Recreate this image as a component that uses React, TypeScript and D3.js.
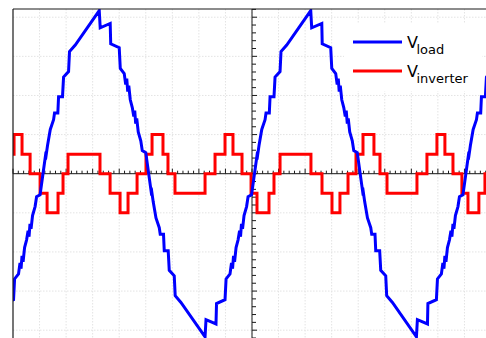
import React from 'react';
import * as d3 from 'd3';

const W = 486;
const H = 338;

// Load voltage (V) against time (ms)
const loadTime = [
  -24.33, -24.24, -23.3, -23.25, -22.45, -22.35, -21.98, -21.84, -21.74, -21.65, -21.55, -21.41, -21.22, -21.08, -20.99, -20.9, -20.8, -20.66, -20.42, -20.28, -19.95, -19.39, -19.44, -19.25, -18.99, -18.68, -18.59, -18.28, -18.21, -17.84, -17.74, -17.27, -17.18, -16.64,
  -14.38, -14.29, -13.35, -13.3, -12.5, -12.4, -12.03, -11.89, -11.79, -11.7, -11.6, -11.46, -11.27, -11.13, -11.04, -10.95, -10.85, -10.71, -10.47, -10.33, -10.0, -9.44, -9.49, -9.3, -9.04, -8.73, -8.64, -8.33, -8.26, -7.89, -7.79, -7.32, -7.23, -6.69,
  -4.42, -4.33, -3.39, -3.34, -2.54, -2.44, -2.07, -1.93, -1.83, -1.74, -1.64, -1.5, -1.31, -1.17, -1.08, -0.99, -0.89, -0.75, -0.51, -0.37, -0.04, 0.52, 0.47, 0.66, 0.92, 1.23, 1.32, 1.63, 1.7, 2.07, 2.17, 2.64, 2.73, 3.27,
  5.53, 5.62, 6.57, 6.61, 7.41, 7.51, 7.88, 8.02, 8.12, 8.21, 8.31, 8.45, 8.64, 8.78, 8.87, 8.97, 9.06, 9.2, 9.44, 9.58, 9.91, 10.47, 10.42, 10.61, 10.87, 11.18, 11.27, 11.58, 11.65, 12.02, 12.12, 12.59, 12.68, 13.22,
  15.48, 15.57, 16.52, 16.56, 17.36, 17.46, 17.83, 17.97, 18.07, 18.16, 18.26, 18.4, 18.59, 18.73, 18.82, 18.92, 19.01, 19.15, 19.39, 19.53, 19.86, 20.42, 20.37, 20.56, 20.82, 21.13, 21.22, 21.53, 21.6, 21.97, 22.07, 22.54, 22.63,
];
const loadVolt = [
  -417, -373, -384, -332, -322, -269, -256, -228, -243, -210, -225, -189, -169, -146, -161, -128, -141, -107, -84, -59, -54, 56, 36, 72, 113, 138, 155, 155, 197, 197, 247, 261, 312, 329,
  417, 373, 384, 332, 322, 269, 256, 228, 243, 210, 225, 189, 169, 146, 161, 128, 141, 107, 84, 59, 54, -56, -36, -72, -113, -138, -155, -155, -197, -197, -247, -261, -312, -329,
  -417, -373, -384, -332, -322, -269, -256, -228, -243, -210, -225, -189, -169, -146, -161, -128, -141, -107, -84, -59, -54, 56, 36, 72, 113, 138, 155, 155, 197, 197, 247, 261, 312, 329,
  417, 373, 384, 332, 322, 269, 256, 228, 243, 210, 225, 189, 169, 146, 161, 128, 141, 107, 84, 59, 54, -56, -36, -72, -113, -138, -155, -155, -197, -197, -247, -261, -312, -329,
  -417, -373, -384, -332, -322, -269, -256, -228, -243, -210, -225, -189, -169, -146, -161, -128, -141, -107, -84, -59, -54, 56, 36, 72, 113, 138, 155, 155, 197, 197, 247, 261, 312,
];

// Inverter output: switching instants (ms) and the level held after each one (V)
const invTime = [
  -22.5, -22.4, -21.65, -20.89, -19.95, -19.29, -18.26, -17.79, -17.32,
  -14.31, -13.36, -12.42, -11.67, -10.82, -9.98, -9.41, -8.38, -7.91, -7.25,
  -4.42, -3.48, -2.54, -1.79, -0.94, -0.09, 0.47, 1.6, 2.07, 2.64,
  5.55, 6.59, 7.53, 8.28, 9.04, 9.79, 10.45, 11.48, 12.05, 12.71,
  15.53, 16.47, 17.41, 18.16, 18.92, 19.76, 20.33, 21.36, 21.93, 22.5,
];
const invVolt = [
  50, 100, 50, 0, -50, -100, -50, 0, 50,
  0, -50, -100, -50, 0, 50, 100, 50, 0, -50,
  0, 50, 100, 50, 0, -50, -100, -50, 0, 50,
  0, -50, -100, -50, 0, 50, 100, 50, 0, -50,
  0, 50, 100, 50, 0, -50, -100, -50, 0, 50,
];

const seriesNames = ['load', 'inverter'];
const seriesColors = ['#0000ff', '#ff0000'];

export default function App() {
  const plotLeft = 13;
  const plotTop = 9;
  const plotRight = 491;
  const plotBottom = 338.4;

  const x = d3.scaleLinear().domain([-22.5, 22.5]).range([plotLeft, plotRight]);
  const y = d3.scaleLinear().domain([-421, 421]).range([plotBottom, plotTop]);

  const loadPts: [number, number][] = loadTime.map((t, i) => [t, loadVolt[i]]);
  const invPts: [number, number][] = invTime.map((t, i) => [t, invVolt[i]]);

  const linePath = d3
    .line<[number, number]>()
    .x((d) => x(d[0]))
    .y((d) => y(d[1]));
  const stepPath = d3
    .line<[number, number]>()
    .x((d) => x(d[0]))
    .y((d) => y(d[1]))
    .curve(d3.curveStepAfter);

  const xGrid = d3.range(-20, 22.6, 2.5);
  const yGrid = d3.range(-400, 401, 100);
  const xTicks = d3.range(-22.5, 22.51, 0.5);
  const yTicks = d3.range(-420, 421, 20);
  const isMajor = (v: number, step: number) => Math.abs(v / step - Math.round(v / step)) < 1e-6;

  const x0 = x(0);
  const y0 = y(0);
  const axisColor = '#1a1a1a';

  return (
    <svg
      width={W}
      height={H}
      style={{ position: 'absolute', left: 0, top: 0, background: '#fff' }}
      fontFamily="'DejaVu Sans', sans-serif"
    >
      <defs>
        <clipPath id="plot-clip">
          <rect x={plotLeft} y={plotTop} width={plotRight - plotLeft} height={plotBottom - plotTop} />
        </clipPath>
      </defs>
      <rect x={0} y={0} width={W} height={H} fill="#fff" />

      {/* grid */}
      <g stroke="#e3e3e3" strokeWidth={1} strokeDasharray="1.5,1.5">
        {xGrid.map((t) => (
          <line key={'gx' + t} x1={x(t)} x2={x(t)} y1={plotTop} y2={plotBottom} />
        ))}
        {yGrid.map((v) => (
          <line key={'gy' + v} x1={plotLeft} x2={plotRight} y1={y(v)} y2={y(v)} />
        ))}
      </g>

      {/* crossing axes with ticks */}
      <g stroke={axisColor} strokeWidth={1}>
        <line x1={plotLeft} x2={plotRight} y1={y0} y2={y0} />
        <line x1={x0} x2={x0} y1={plotTop} y2={plotBottom} />
        {xTicks.map((t) => (
          <line key={'tx' + t} x1={x(t)} x2={x(t)} y1={y0} y2={y0 - (isMajor(t, 2.5) ? 5 : 3)} />
        ))}
        {yTicks.map((v) => (
          <line key={'ty' + v} x1={x0} x2={x0 + (isMajor(v, 100) ? 5 : 4)} y1={y(v)} y2={y(v)} />
        ))}
      </g>

      {/* waveforms */}
      <g clipPath="url(#plot-clip)" fill="none" strokeWidth={3} strokeLinejoin="miter">
        <path d={stepPath(invPts) || ''} stroke={seriesColors[1]} />
        <path d={linePath(loadPts) || ''} stroke={seriesColors[0]} />
      </g>

      {/* frame */}
      <g stroke={axisColor} strokeWidth={1.2}>
        <line x1={plotLeft} x2={W} y1={plotTop} y2={plotTop} />
        <line x1={plotLeft} x2={plotLeft} y1={plotTop} y2={H} />
      </g>

      {/* legend */}
      <rect x={344} y={24} width={138} height={67} fill="#fff" />
      {seriesNames.map((name, i) => {
        const ly = 42 + i * 29;
        return (
          <g key={name}>
            <line x1={353} x2={402} y1={ly} y2={ly} stroke={seriesColors[i]} strokeWidth={3} />
            <text x={407} y={ly + 5.8} fontSize={16} fill="#000">
              V
            </text>
            <text x={416.5} y={ly + 11.5} fontSize={13} fill="#000">
              {name}
            </text>
          </g>
        );
      })}
    </svg>
  );
}
